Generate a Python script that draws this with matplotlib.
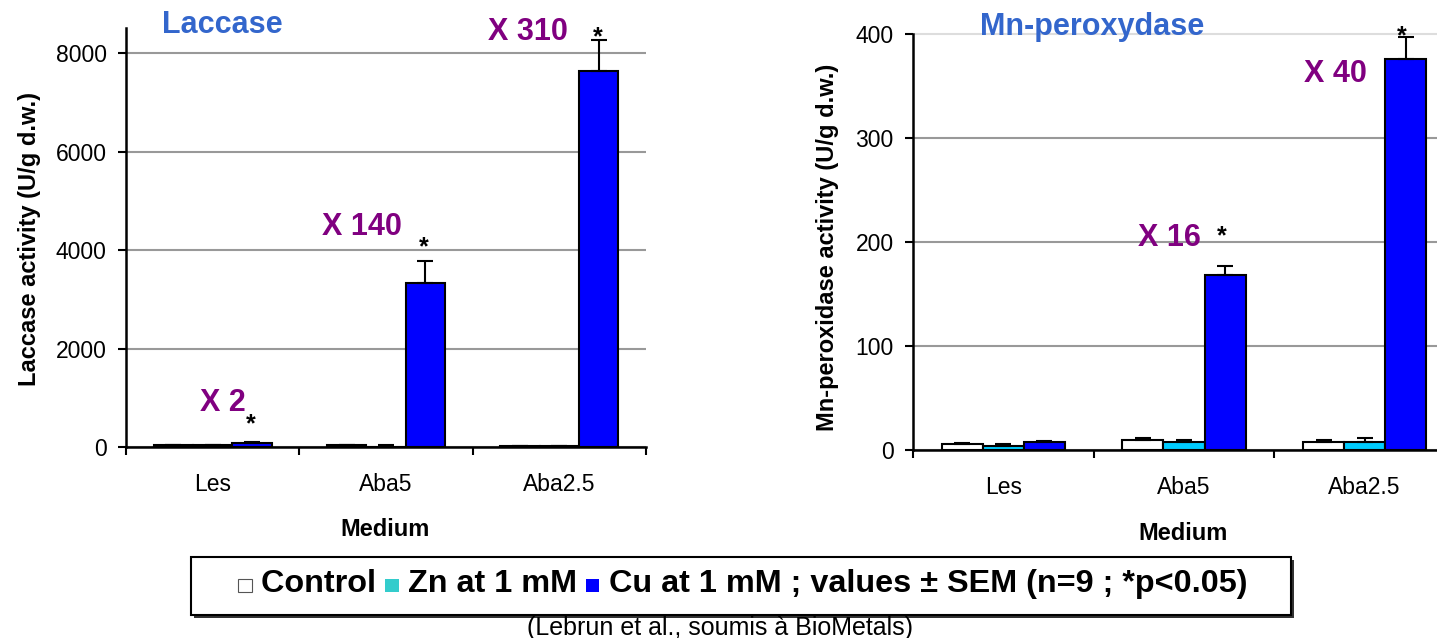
import matplotlib
matplotlib.use('Agg')
import matplotlib.pyplot as plt
import numpy as np
from matplotlib.patches import Rectangle
from matplotlib.offsetbox import HPacker, TextArea, DrawingArea, AnchoredOffsetbox

plt.rcParams['font.family'] = ['Liberation Sans', 'DejaVu Sans']

# ---------------- data ----------------
categories = ['Les', 'Aba5', 'Aba2.5']

lac_control = [40, 40, 30]
lac_control_err = [0, 0, 0]
lac_zn = [40, 5, 30]
lac_zn_err = [0, 45, 0]
lac_cu = [85, 3330, 7640]
lac_cu_err = [10, 450, 620]
lac_ticks = [0, 2000, 4000, 6000, 8000]

mn_control = [6, 10, 8]
mn_control_err = [0.5, 2, 2]
mn_zn = [3.5, 8, 8]
mn_zn_err = [2.5, 2, 4]
mn_cu = [8, 168, 376]
mn_cu_err = [0.5, 9, 21]
mn_ticks = [0, 100, 200, 300, 400]

lac_fold = ['X 2', 'X 140', 'X 310']
mn_fold = ['X 16', 'X 40']

# ---------------- style ----------------
W, H = 1437, 638
CU = '#0000FF'
ZN = '#00CCFF'
ZN_LEG = '#33CCCC'
TITLE_C = '#3366CC'
FOLD_C = '#800080'
GRID_C = '#999999'

fig = plt.figure(figsize=(W / 100, H / 100), dpi=100)


def fx(px):
    return px / W


def fy(py):
    return 1 - py / H


def ax_rect(l, t, r, b):
    return [l / W, 1 - b / H, (r - l) / W, (b - t) / H]


ax1 = fig.add_axes(ax_rect(126, 28.4, 646, 447))
ax2 = fig.add_axes(ax_rect(913, 34, 1455, 450))


def draw(ax, ctrl, ctrl_e, zn, zn_e, cu, cu_e, ymax, ticks):
    x = np.arange(len(categories))
    w = 0.227
    ekw = dict(ecolor='black', elinewidth=1.5, capsize=5.5, capthick=1.5, zorder=4)
    for off, vals, errs, col in [(-w, ctrl, ctrl_e, 'white'),
                                 (0, zn, zn_e, ZN),
                                 (w, cu, cu_e, CU)]:
        ax.bar(x + off, vals, w, color=col, edgecolor='black', linewidth=1.5,
               yerr=[np.zeros(len(errs)), errs], error_kw=ekw, zorder=3)
    ax.set_xlim(-0.5, len(categories) - 0.5)
    ax.set_ylim(0, ymax)
    ax.set_xticks(np.arange(len(categories) + 1) - 0.5)
    ax.set_xticklabels([])
    ax.set_xticks(x, minor=True)
    ax.set_xticklabels(categories, minor=True)
    ax.tick_params(axis='x', which='minor', length=0, pad=19, labelsize=16.5)
    ax.tick_params(axis='x', which='major', length=6, width=1.5, direction='out')
    ax.set_yticks(ticks)
    ax.tick_params(axis='y', length=6, width=1.5, direction='out', pad=8, labelsize=16.5)
    for s in ['top', 'right']:
        ax.spines[s].set_visible(False)
    for s in ['left', 'bottom']:
        ax.spines[s].set_linewidth(1.8)
        ax.spines[s].set_zorder(5)
    ax.yaxis.grid(True, color=GRID_C, linewidth=1.5)
    ax.set_axisbelow(True)


draw(ax1, lac_control, lac_control_err, lac_zn, lac_zn_err, lac_cu, lac_cu_err, 8500, lac_ticks)
draw(ax2, mn_control, mn_control_err, mn_zn, mn_zn_err, mn_cu, mn_cu_err, 400, mn_ticks)
gl = ax2.get_ygridlines()
gl[-1].set_color('#DDDDDD')
gl[-1].set_clip_on(False)

# annotations: fold changes and significance stars
fold_kw = dict(color=FOLD_C, fontsize=22, fontweight='bold', ha='center', va='center')
star_kw = dict(color='black', fontsize=18, fontweight='bold', ha='center', va='center')
ax1.text(0.06, 893, lac_fold[0], **fold_kw)
ax1.text(0.86, 4467, lac_fold[1], **fold_kw)
ax1.text(1.82, 8426, lac_fold[2], **fold_kw, clip_on=False)
ax1.text(0.22, 470, '*', **star_kw)
ax1.text(1.22, 4060, '*', **star_kw)
ax1.text(2.22, 8320, '*', **star_kw, clip_on=False)
ax2.text(0.92, 204, mn_fold[0], **fold_kw)
ax2.text(1.84, 362, mn_fold[1], **fold_kw)
ax2.text(1.21, 205, '*', **star_kw)
ax2.text(2.206, 398, '*', **star_kw, clip_on=False)

# titles and axis labels
fig.text(fx(222), fy(25), 'Laccase', color=TITLE_C, fontsize=22, fontweight='bold',
         ha='center', va='center')
fig.text(fx(1092), fy(27), 'Mn-peroxydase', color=TITLE_C, fontsize=22, fontweight='bold',
         ha='center', va='center')
fig.text(fx(30), fy(239), 'Laccase activity (U/g d.w.)', rotation=90, fontsize=17,
         fontweight='bold', ha='center', va='center')
fig.text(fx(828), fy(247), 'Mn-peroxidase activity (U/g d.w.)', rotation=90, fontsize=17,
         fontweight='bold', ha='center', va='center')
fig.text(fx(385), fy(529), 'Medium', fontsize=17, fontweight='bold', ha='center', va='center')
fig.text(fx(1183), fy(533), 'Medium', fontsize=17, fontweight='bold', ha='center', va='center')

# legend box
fig.add_artist(Rectangle((fx(194), fy(618)), (1291 - 191) / W, (615 - 557) / H,
                         transform=fig.transFigure, facecolor='#333333', edgecolor='none',
                         zorder=1))
fig.add_artist(Rectangle((fx(191), fy(615)), (1291 - 191) / W, (615 - 557) / H,
                         transform=fig.transFigure, facecolor='white', edgecolor='black',
                         lw=1.5, zorder=2))


def sq(color, edge):
    da = DrawingArea(10, 10, 0, 0)
    da.add_artist(Rectangle((0, 0), 9.5, 9.5, facecolor=color, edgecolor=edge, lw=0.8))
    return da


tp = dict(fontsize=23.3, fontweight='bold', color='black')
pack = HPacker(children=[sq('white', '#555555'), TextArea(' Control ', textprops=tp),
                         sq(ZN_LEG, 'none'), TextArea(' Zn at 1 mM ', textprops=tp),
                         sq(CU, 'none'),
                         TextArea(' Cu at 1 mM ; values \u00b1 SEM (n=9 ; *p<0.05)', textprops=tp)],
               align='baseline', pad=0, sep=0)
ab = AnchoredOffsetbox(loc='center', child=pack, bbox_to_anchor=(fx(743), fy(584)),
                       bbox_transform=fig.transFigure, frameon=False, pad=0, borderpad=0)
ab.set_zorder(3)
fig.add_artist(ab)

fig.text(fx(720), fy(628), '(Lebrun et al., soumis \u00e0 BioMetals)', fontsize=18,
         ha='center', va='center')

fig.savefig('out.png', dpi=100)
